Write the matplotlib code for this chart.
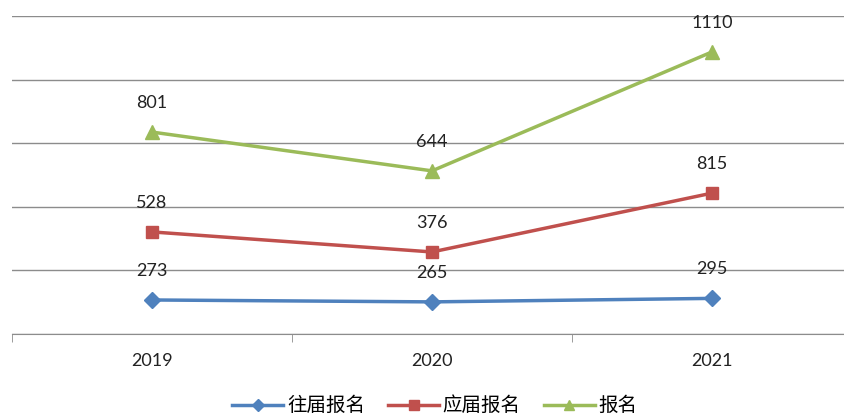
import numpy as np
import matplotlib.pyplot as plt

plt.rcParams['font.family'] = ['Lato', 'Noto Sans CJK SC', 'DejaVu Sans']

# 年份
years = ['2019', '2020', '2021']
series_names = ['往届报名', '应届报名', '报名']

# 数据标签（图中显示的数字）
wangjie_labels = [273, 265, 295]
yingjie_labels = [528, 376, 815]
baoming_labels = [801, 644, 1110]

# 折线在图中的位置（按网格读取，单位：每条网格线 200）
wangjie_pos = [107, 101, 112]
yingjie_pos = [321, 258, 443]
baoming_pos = [635, 513, 887]

colors = ['#4F81BD', '#C0504D', '#9BBB59']
markers = ['D', 's', '^']
msizes = [8, 9, 10]

fig = plt.figure(figsize=(8.45, 4.16), dpi=100)
ax = fig.add_axes([12 / 845, 82 / 416, 840 / 845, 318 / 416])

x = np.arange(len(years))
all_pos = [wangjie_pos, yingjie_pos, baoming_pos]
all_labels = [wangjie_labels, yingjie_labels, baoming_labels]

for name, pos, labs, c, m, ms in zip(series_names, all_pos, all_labels, colors, markers, msizes):
    ax.plot(x, pos, color=c, lw=2.5, marker=m, markersize=ms, label=name, zorder=3)
    for xi, yi, lab in zip(x, pos, labs):
        ax.annotate(str(lab), (xi, yi), xytext=(0, 21), textcoords='offset points',
                    ha='center', va='center', fontsize=13, color='#222222')

ax.set_xlim(-0.5, 2.5)
ax.set_ylim(0, 1000)
ax.set_yticks(np.arange(0, 1001, 200))
ax.yaxis.grid(True, color='#8c8c8c', lw=1)
ax.set_axisbelow(True)
ax.tick_params(axis='y', left=False, labelleft=False)

ax.set_xticks(x)
ax.set_xticklabels(years, fontsize=13)
ax.set_xticks([-0.5, 0.5, 1.5, 2.5], minor=True)
ax.tick_params(axis='x', which='major', length=0, pad=14, colors='#222222')
ax.tick_params(axis='x', which='minor', length=6, color='#8c8c8c', direction='out')

for s in ['top', 'right', 'left']:
    ax.spines[s].set_visible(False)
ax.spines['bottom'].set_color('#8c8c8c')

fig.legend(loc='center', bbox_to_anchor=(435 / 845, 1 - 405 / 416), ncol=3, frameon=False,
           fontsize=14, handlelength=2.6, columnspacing=1.2, handletextpad=0.2,
           markerscale=0.75)

plt.savefig('out.png', dpi=100)
